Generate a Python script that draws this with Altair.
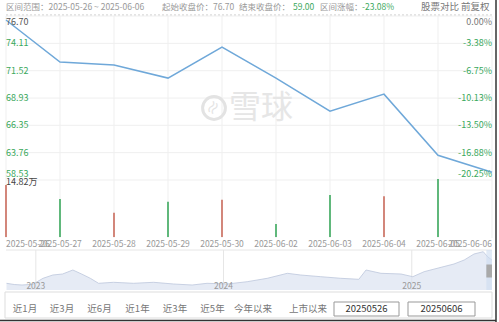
import altair as alt
import pandas as pd

# ---------------- data ----------------
dates = ["2025-05-26", "2025-05-27", "2025-05-28", "2025-05-29", "2025-05-30",
         "2025-06-02", "2025-06-03", "2025-06-04", "2025-06-05", "2025-06-06"]
close = [76.32, 72.34, 72.05, 70.82, 73.76, 70.82, 67.69, 69.30, 63.51, 61.90]

vol_dates = dates[:9]
volume = [13.29, 9.71, 6.21, 9.02, 9.53, 3.32, 10.73, 10.40, 14.82]   # 万
vol_up = [True, False, True, False, True, False, False, True, False]

grid_price = [76.70, 74.11, 71.52, 68.93, 66.35, 63.76, 61.17]
left_labels = ["76.70", "74.11", "71.52", "68.93", "66.35", "63.76", "58.53"]
right_labels = ["0.00%", "-3.38%", "-6.75%", "-10.13%", "-13.50%", "-16.88%", "-20.25%"]
vol_max_label = "14.82万"

nav_dates = ["2022-11-05", "2022-11-20", "2022-12-05", "2022-12-26", "2023-01-15",
             "2023-02-03", "2023-02-22", "2023-03-14", "2023-03-31", "2023-04-17",
             "2023-05-03", "2023-06-01", "2023-07-10", "2023-08-18", "2023-09-26",
             "2023-11-01", "2023-11-30", "2024-01-08", "2024-02-16", "2024-03-26",
             "2024-05-04", "2024-05-30", "2024-07-08", "2024-08-16", "2024-09-20",
             "2024-10-04", "2024-11-02", "2024-12-11", "2025-01-03", "2025-01-25",
             "2025-02-27", "2025-03-24", "2025-04-13", "2025-05-02", "2025-05-20",
             "2025-05-29", "2025-06-06"]
nav_vals = [6.7, 5.5, 5.0, 5.7, 11.7, 15.0, 16.0, 20.0, 16.0, 11.7,
            6.7, 7.7, 6.7, 7.7, 6.0, 5.0, 6.7, 6.0, 8.3, 11.7,
            16.7, 15.0, 13.3, 11.7, 10.7, 20.0, 16.7, 16.0, 13.3, 18.3,
            22.7, 26.0, 30.0, 36.0, 38.3, 33.0, 30.0]
year_marks = ["2023-01-01", "2024-01-01", "2025-01-01"]
year_labels = ["2023", "2024", "2025"]

range_buttons = ["近1月", "近3月", "近6月", "近1年", "近3年", "近5年", "今年以来", "上市以来"]
range_start, range_end = "20250526", "20250606"
start_close, end_close, change = 76.70, 59.00, "-23.08%"

# ---------------- style ----------------
FONT = "Noto Sans CJK SC"
GREEN = "#3aa85c"
RED = "#c96a5b"
GRAY = "#999999"
DARK = "#555555"
GRID = "#efefef"
LINE = "#6fa8d9"

X0, X1 = 6, 492

def x_main(field="date:O"):
    return alt.X(field, scale=alt.Scale(type="point", domain=dates, range=[X0, X1], padding=0), axis=None)

def y_price(field):
    return alt.Y(field, scale=alt.Scale(domain=[61.17, 76.70], range=[180, 16], nice=False, zero=False), axis=None)

def y_vol(field):
    return alt.Y(field, scale=alt.Scale(domain=[0, 14.82], range=[237, 179], nice=False), axis=None)

def x_nav(field):
    return alt.X(field, scale=alt.Scale(domain=[alt.DateTime(year=2022, month=11, date=4),
                                                alt.DateTime(year=2025, month=6, date=6)],
                                        range=[X0, X1]), axis=None)

def y_nav(field):
    return alt.Y(field, scale=alt.Scale(domain=[0, 40], range=[290, 250], nice=False), axis=None)

one = pd.DataFrame({"k": [0]})

price_df = pd.DataFrame({"date": dates, "close": close})
vol_df = pd.DataFrame({"date": vol_dates, "vol": volume,
                       "col": [RED if u else GREEN for u in vol_up]})
grid_df = pd.DataFrame({
    "p": grid_price, "lt": left_labels, "rt": right_labels,
    "lc": [DARK] + [GREEN] * 6, "rc": ["#777777"] + [GREEN] * 6,
    "pos": ["top"] + ["mid"] * 5 + ["bot"],
})
date_df = pd.DataFrame({"date": dates,
                        "pos": ["first"] + ["mid"] * (len(dates) - 2) + ["last"]})
nav_df = pd.DataFrame({"d": pd.to_datetime(nav_dates), "v": nav_vals})
year_df = pd.DataFrame({"d": pd.to_datetime(year_marks), "t": year_labels})
sel_df = pd.DataFrame({"d": [pd.Timestamp(dates[0])], "d2": [pd.Timestamp(dates[-1])],
                       "lo": [0], "hi": [40], "glo": [12.5], "ghi": [25.5]})

layers = []

# top dashed border
layers.append(alt.Chart(one).mark_rule(color="#c8c8c8", strokeDash=[2, 2], strokeWidth=1).encode(
    x=alt.value(X0), x2=alt.value(X1), y=alt.value(15)))

# vertical grid
layers.append(alt.Chart(date_df).mark_rule(color=GRID, strokeWidth=1).encode(
    x=x_main(), y=alt.value(16), y2=alt.value(238)))
# horizontal grid
layers.append(alt.Chart(grid_df).mark_rule(color=GRID, strokeWidth=1).encode(
    y=y_price("p:Q"), x=alt.value(X0), x2=alt.value(X1)))

# watermark
layers.append(alt.Chart(one).mark_point(shape="circle", size=520, filled=False, color="#e3e3e3",
                                        strokeWidth=3, opacity=1).encode(
    x=alt.value(214), y=alt.value(108)))
layers.append(alt.Chart(one).mark_text(text="≈", font=FONT, fontSize=16, color="#e3e3e3", angle=300,
                                       align="center", baseline="middle").encode(
    x=alt.value(214), y=alt.value(108)))
layers.append(alt.Chart(one).mark_text(text="雪球", font=FONT, fontSize=32, color="#e6e6e6",
                                       align="center", baseline="middle").encode(
    x=alt.value(261), y=alt.value(108)))

# price line
layers.append(alt.Chart(price_df).mark_line(color=LINE, strokeWidth=1.5).encode(
    x=x_main(), y=y_price("close:Q")))

# volume bars
layers.append(alt.Chart(vol_df).mark_bar(width=1.6).encode(
    x=x_main(), y=y_vol("vol:Q"), color=alt.Color("col:N", scale=None)))

# axis labels (left / right)
for pos, base, dy in [("top", "top", 2), ("mid", "middle", 0), ("bot", "bottom", -1)]:
    sub = alt.Chart(grid_df).transform_filter(alt.datum.pos == pos)
    layers.append(sub.mark_text(font=FONT, fontSize=9, align="left", baseline=base, dy=dy).encode(
        x=alt.value(X0), y=y_price("p:Q"), text="lt:N", color=alt.Color("lc:N", scale=None)))
    layers.append(sub.mark_text(font=FONT, fontSize=9, align="right", baseline=base, dy=dy).encode(
        x=alt.value(X1), y=y_price("p:Q"), text="rt:N", color=alt.Color("rc:N", scale=None)))

# volume max label
layers.append(alt.Chart(pd.DataFrame({"v": [volume[-1]], "t": [vol_max_label]})).mark_text(
    font=FONT, fontSize=9, align="left", baseline="top", color="#444444", dy=-1).encode(
    x=alt.value(X0), y=y_vol("v:Q"), text="t:N"))

# date labels (first flush-left, last flush-right)
for pos, al in [("first", "left"), ("mid", "center"), ("last", "right")]:
    layers.append(alt.Chart(date_df).transform_filter(alt.datum.pos == pos).mark_text(
        font=FONT, fontSize=8.5, color=GRAY, baseline="middle", align=al).encode(
        x=x_main(), y=alt.value(244), text="date:N"))

# header
hdr = pd.DataFrame({
    "x": [6, 162, 239, 293, 320, 362],
    "t": [f"区间范围：{dates[0]} ~ {dates[-1]}", f"起始收盘价：{start_close:.2f}",
          "结束收盘价：", f"{end_close:.2f}", "区间涨幅：", change],
    "c": [GRAY, GRAY, GRAY, GREEN, GRAY, GREEN],
})
layers.append(alt.Chart(hdr).mark_text(font=FONT, fontSize=8.5, align="left", baseline="middle").encode(
    x=alt.X("x:Q", scale=None), y=alt.value(7), text="t:N", color=alt.Color("c:N", scale=None)))
hdr2 = pd.DataFrame({"x": [421, 461], "t": ["股票对比", "前复权"]})
layers.append(alt.Chart(hdr2).mark_text(font=FONT, fontSize=9.5, align="left", baseline="middle",
                                        color="#777777").encode(
    x=alt.X("x:Q", scale=None), y=alt.value(7), text="t:N"))

# navigator
layers.append(alt.Chart(one).mark_rule(color="#e6e6e6").encode(
    x=alt.value(X0), x2=alt.value(X1), y=alt.value(250)))
layers.append(alt.Chart(year_df).mark_rule(color="#e6e6e6").encode(
    x=x_nav("d:T"), y=alt.value(250), y2=alt.value(290)))
layers.append(alt.Chart(nav_df).mark_area(color="#dbe2f1", line={"color": "#bcc7dc", "strokeWidth": 0.8},
                                          interpolate="linear").encode(
    x=x_nav("d:T"), y=y_nav("v:Q")))
layers.append(alt.Chart(sel_df).mark_rect(color="#cddcf0", opacity=0.6).encode(
    x=x_nav("d:T"), x2="d2:T", y=y_nav("lo:Q"), y2="hi:Q"))
layers.append(alt.Chart(sel_df).mark_rect(color="#a9a9a9").encode(
    x=x_nav("d:T"), x2="d2:T", y=y_nav("glo:Q"), y2="ghi:Q"))
layers.append(alt.Chart(year_df).mark_text(font=FONT, fontSize=8.5, color="#9a9a9a", align="center",
                                           baseline="middle").encode(
    x=x_nav("d:T"), y=alt.value(286), text="t:N"))

# range buttons bar
layers.append(alt.Chart(one).mark_rect(fill="white", stroke="#dddddd", strokeWidth=1).encode(
    x=alt.value(5), x2=alt.value(492), y=alt.value(292), y2=alt.value(318)))
btn = pd.DataFrame({"x": [25, 62, 99.5, 137.5, 175, 212.5, 253, 308], "t": range_buttons})
layers.append(alt.Chart(btn).mark_text(font=FONT, fontSize=9.5, color="#777777", align="center",
                                       baseline="middle").encode(
    x=alt.X("x:Q", scale=None), y=alt.value(309), text="t:N"))
boxes = pd.DataFrame({"x": [334, 408], "x2": [399, 475], "t": [range_start, range_end]})
layers.append(alt.Chart(boxes).mark_rect(fill="white", stroke="#999999", strokeWidth=1).encode(
    x=alt.X("x:Q", scale=None), x2="x2:Q", y=alt.value(302), y2=alt.value(316)))
boxes["xc"] = (boxes["x"] + boxes["x2"]) / 2
layers.append(alt.Chart(boxes).mark_text(font=FONT, fontSize=9.5, color="#333333", align="center",
                                         baseline="middle").encode(
    x=alt.X("xc:Q", scale=None), y=alt.value(309), text="t:N"))

# outer dark edges
layers.append(alt.Chart(one).mark_rule(color="#333333", strokeWidth=1.5).encode(
    x=alt.value(496), y=alt.value(0), y2=alt.value(322)))
layers.append(alt.Chart(one).mark_rule(color="#333333", strokeWidth=1.5).encode(
    x=alt.value(0), x2=alt.value(496), y=alt.value(320.5)))

chart = alt.layer(*layers).resolve_scale(x="independent", y="independent", color="independent").properties(
    width=499, height=322, padding=0, background="white",
    autosize=alt.AutoSizeParams(type="none"),
).configure_view(stroke=None)

chart.save("out.html", embed_options={"renderer": "svg", "actions": False})
